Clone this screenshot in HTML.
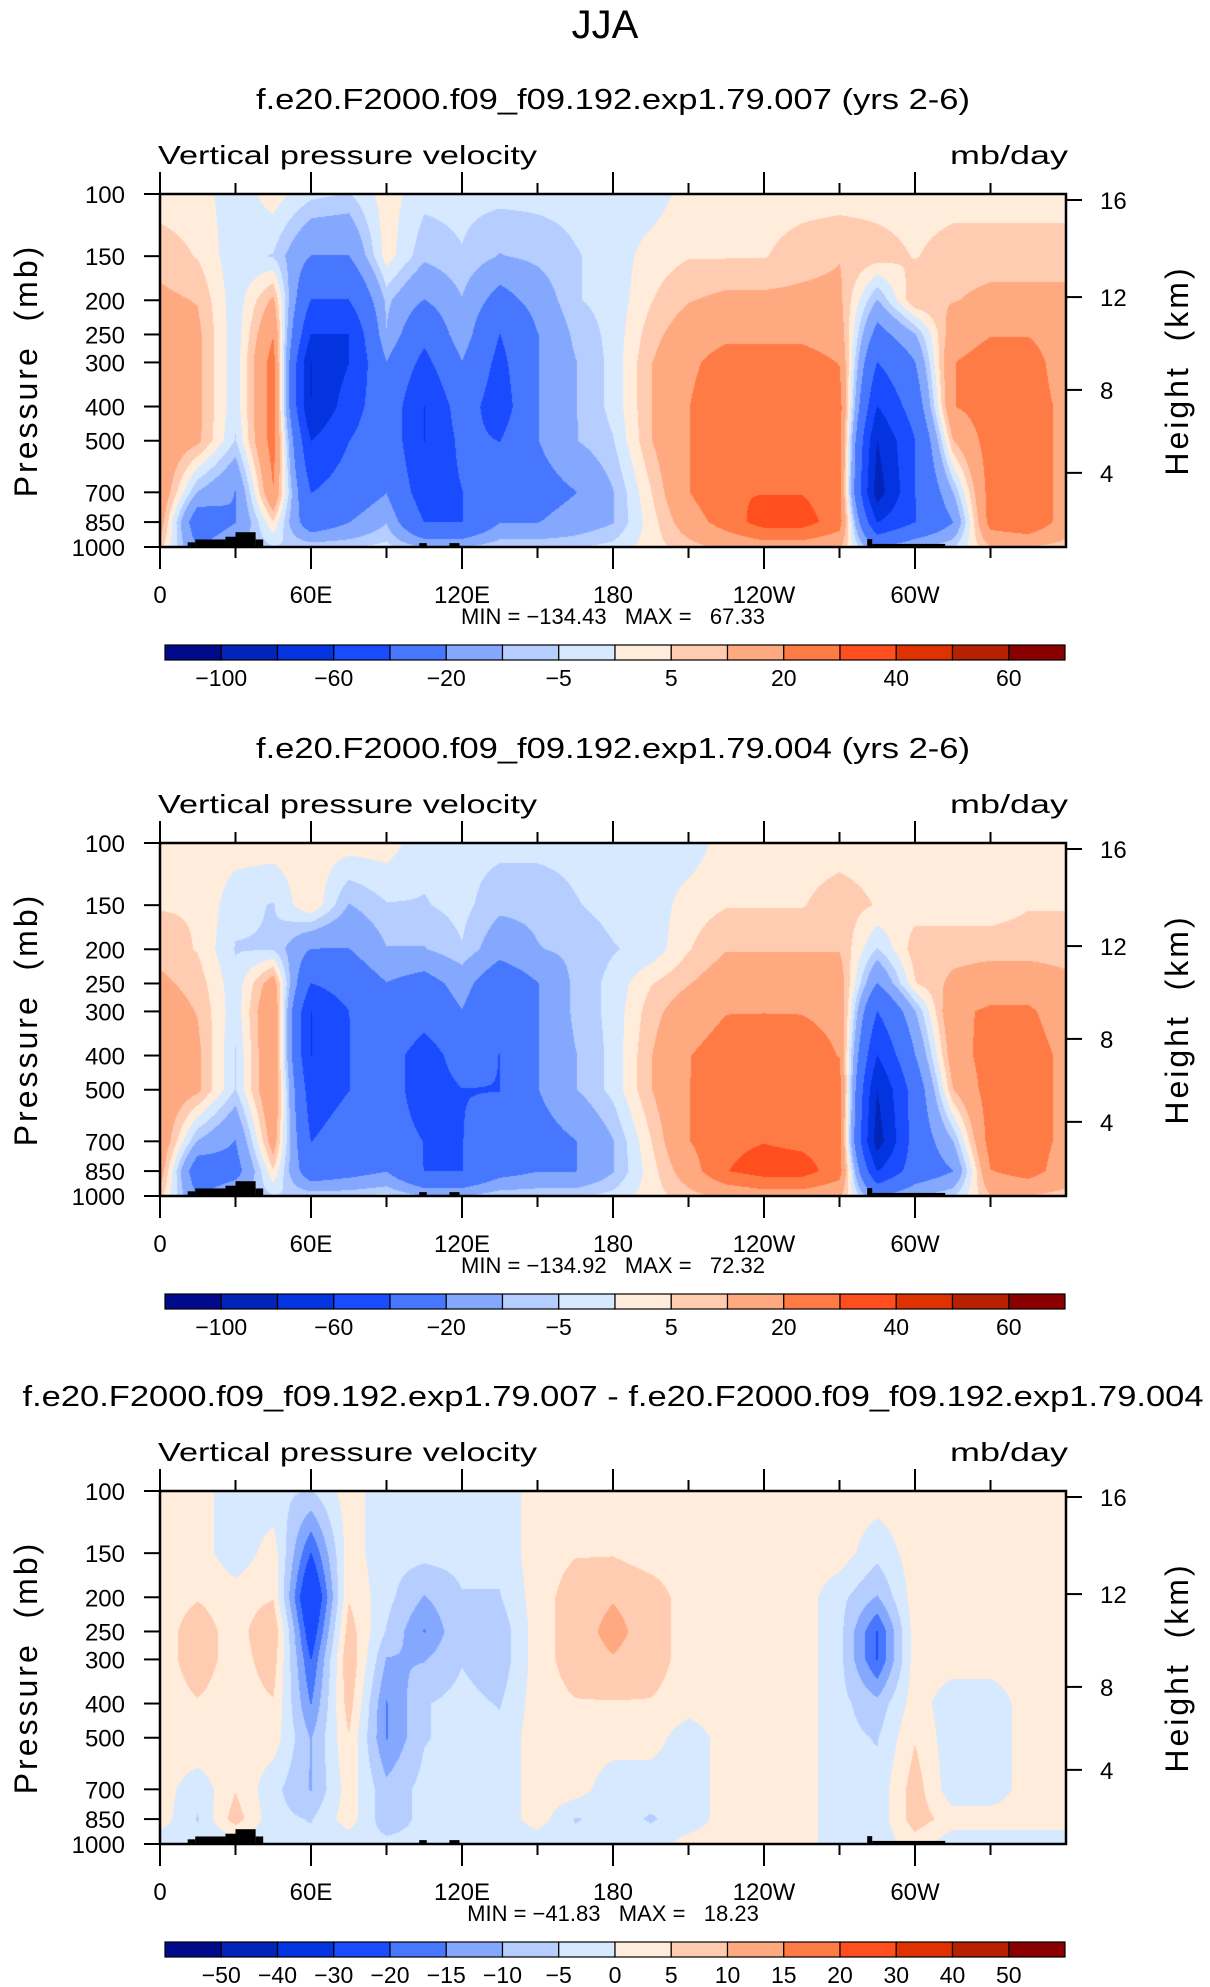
<!DOCTYPE html>
<html><head><meta charset="utf-8"><style>
html,body{margin:0;padding:0;background:#fff;}
#root{position:relative;width:1210px;height:1987px;overflow:hidden;background:#fff;}
canvas{position:absolute;}
svg{position:absolute;left:0;top:0;}
text{font-family:"Liberation Sans",sans-serif;fill:#000;}
</style></head><body>
<div id="root">
<svg id="svg" width="1210" height="1987"></svg>
</div>
<script>
// ---------- data ----------
const levels = [100,150,200,250,300,400,500,700,850,1000];
const lons = [0,15,30,45,60,75,90,105,120,135,150,165,180,195,210,225,240,255,270,285,300,315,330,345,360];
const field1 = [
[3,3,-3,3,-3,-5,3,-3,-3,-3,-3,-3,-3,-3,3,3,3,3,3,3,3,3,3,3,3],
[8,5,-3,-5,-20,-20,3,-8,-5,-10,-8,-5,-3,3,5,5,5,8,10,8,5,8,8,8,8],
[12,10,-3,12,-40,-40,-8,-20,-10,-25,-15,-5,-3,5,10,12,12,12,12,-10,10,10,12,12,12],
[15,12,-3,20,-60,-60,-10,-35,-12,-40,-20,-8,-3,8,15,18,18,18,15,-25,-10,15,20,20,15],
[15,12,-3,25,-80,-60,-20,-45,-20,-45,-20,-10,-3,10,18,25,25,25,20,-40,-20,20,25,25,15],
[18,12,-3,25,-80,-50,-25,-60,-30,-50,-20,-10,-3,10,20,30,30,30,25,-60,-30,20,25,25,18],
[18,12,-5,25,-60,-40,-25,-60,-35,-40,-20,-10,-5,10,20,30,30,30,25,-80,-40,10,25,25,18],
[18,-10,-20,20,-40,-30,-20,-50,-40,-30,-25,-20,-10,5,20,30,30,30,25,-90,-40,-10,25,25,18],
[15,-30,-20,5,-30,-20,-10,-40,-40,-20,-20,-15,-10,3,15,25,35,35,25,-60,-40,-20,25,30,15],
[8,-20,-10,-5,-5,-5,-3,-10,-10,-5,-5,-5,-3,3,8,12,15,15,12,-20,-10,-5,10,10,8]];
const field2 = [
[3,3,3,3,3,3,3,-3,-3,-3,-3,-3,-3,-3,-3,3,3,3,3,3,3,3,3,3,3],
[5,5,-3,-5,5,-10,-5,-5,-3,-8,-8,-5,-3,-3,3,5,5,5,8,5,3,3,3,5,5],
[8,5,-5,-5,-20,-20,-10,-10,-5,-15,-10,-8,-5,-3,5,10,10,10,10,-5,8,8,8,8,8],
[12,8,-3,15,-40,-30,-20,-25,-15,-30,-20,-8,-3,5,10,15,15,15,15,-20,5,12,15,15,12],
[15,10,-3,20,-60,-40,-20,-30,-20,-35,-20,-8,-3,8,15,20,20,20,18,-40,-10,18,22,22,15],
[18,12,-5,20,-60,-40,-30,-50,-30,-40,-20,-10,-3,10,20,25,28,25,20,-60,-20,15,25,25,18],
[18,12,-5,20,-50,-40,-30,-50,-40,-40,-20,-10,-3,10,20,28,30,28,25,-80,-30,10,25,25,18],
[18,-10,-20,15,-40,-30,-30,-40,-40,-30,-25,-20,-10,5,20,28,30,28,25,-90,-30,-10,25,25,18],
[15,-30,-25,5,-30,-25,-20,-40,-40,-25,-20,-20,-10,3,15,30,35,35,25,-60,-30,-20,20,25,15],
[8,-20,-10,-5,-5,-5,-3,-10,-10,-5,-5,-5,-3,3,8,12,15,15,12,-20,-10,-5,10,10,8]];
const field3 = [
[3,3,-3,-3,-5,3,-3,-3,-3,-3,3,3,3,3,3,3,3,3,3,3,3,3,3,3,3],
[3,3,-3,3,-20,3,-3,-3,-3,-3,3,5,5,3,3,3,3,3,3,-3,3,3,3,3,3],
[3,5,3,5,-30,5,-3,-10,-5,-5,3,8,10,8,3,3,3,3,-3,-10,3,3,3,3,3],
[3,8,3,10,-25,8,-5,-15,-5,-8,3,8,12,8,3,3,3,3,-3,-20,3,3,3,3,3],
[3,8,3,8,-20,10,-10,-10,-5,-8,3,8,10,8,3,3,3,3,-3,-20,3,3,3,3,3],
[3,5,3,5,-15,8,-15,-5,-3,-5,3,5,5,5,3,3,3,3,-3,-8,3,-3,-3,3,3],
[3,5,3,3,-10,5,-15,-5,-3,-3,3,3,3,3,-3,3,3,3,-3,-5,5,-3,-3,3,3],
[3,-3,5,-3,-10,3,-8,-3,-3,-3,3,3,-3,-3,-3,3,3,3,-3,-3,8,-3,-3,3,3],
[3,-5,8,-3,-5,3,-8,-3,-3,-3,3,-5,-3,-5,-3,3,3,3,-3,-3,8,3,3,3,3],
[-3,-3,-3,-3,-3,-3,-3,-3,-3,-3,-3,-3,-3,-3,3,3,3,3,-3,-3,3,-3,-3,-3,-3]];
const bounds12 = [-100,-80,-60,-40,-20,-10,-5,0,5,10,20,30,40,50,60];
const labels12 = ["-100","-60","-20","-5","5","20","40","60"];
const bounds3 = [-50,-40,-30,-20,-15,-10,-5,0,5,10,15,20,30,40,50];
const labels3 = ["-50","-40","-30","-20","-15","-10","-5","0","5","10","15","20","30","40","50"];
const colors = ["#020a8c","#0324b8","#0433e0","#1a4bff","#4877ff","#85a8ff","#b5ceff","#d6e9ff","#ffecda","#ffccb1","#ffa981","#ff7b45","#ff4f1e","#e03200","#b72000","#8a0000"];
const xTickLons = [0,60,120,180,240,300];
const xTickLabels = ["0","60E","120E","180","120W","60W"];
const pTicks = [100,150,200,250,300,400,500,700,850,1000];
const zTicks = [16,12,8,4];
const zFrac = [0.017,0.292,0.555,0.79];
// topography: [lonStart, lonEnd, top pressure]
const topo = [[11,14,970],[14,26,952],[26,30,935],[30,38,908],[38,41,952],[103,106,975],[115,118,975],[118,119,975],[281,283,950],[283,312,980]];
const titles = ["f.e20.F2000.f09_f09.192.exp1.79.007 (yrs 2-6)","f.e20.F2000.f09_f09.192.exp1.79.004 (yrs 2-6)","f.e20.F2000.f09_f09.192.exp1.79.007 - f.e20.F2000.f09_f09.192.exp1.79.004"];
const titleW = [714,714,1181];
const minmax = ["MIN = \u2212134.43   MAX =   67.33","MIN = \u2212134.92   MAX =   72.32","MIN = \u221241.83   MAX =   18.23"];

// ---------- layout ----------
const PX=160, PW=906, PH=353, tops=[194,843,1491];
const svg=document.getElementById('svg'), root=document.getElementById('root');
const NS='http://www.w3.org/2000/svg';
function mk(tag,attrs,parent,txt){const e=document.createElementNS(NS,tag);for(const k in attrs)e.setAttribute(k,attrs[k]);if(txt!==undefined)e.textContent=txt;(parent||svg).appendChild(e);return e;}
const xS=l=>PX+l/360*PW;
const yS=(p,top)=>top+Math.log10(p/100)*PH;
const lvlPos=levels.map(p=>Math.log10(p/100));

function valueAt(field,lon,lp){
  let i=Math.min(Math.floor(lon/15),lons.length-2); let fx=(lon-lons[i])/15;
  let j=0; while(j<levels.length-2 && lp>lvlPos[j+1]) j++;
  let fy=(lp-lvlPos[j])/(lvlPos[j+1]-lvlPos[j]); fy=Math.max(0,Math.min(1,fy));
  const a=field[j][i],b=field[j][i+1],c=field[j+1][i],d=field[j+1][i+1];
  return (a*(1-fx)+b*fx)*(1-fy)+(c*(1-fx)+d*fx)*fy;
}
function hexRGB(h){return [parseInt(h.substr(1,2),16),parseInt(h.substr(3,2),16),parseInt(h.substr(5,2),16)];}
const rgb=colors.map(hexRGB);

const fields=[field1,field2,field3];
const bnds=[bounds12,bounds12,bounds3];
const labs=[labels12,labels12,labels3];

mk('text',{x:605,y:38,'font-size':40,'text-anchor':'middle','font-weight':'300',},svg,'JJA');

for(let k=0;k<3;k++){
  const top=tops[k], f=fields[k], bd=bnds[k];
  const g=mk('g',{});
  
  
  const cv=document.createElement('canvas'); cv.width=PW; cv.height=PH;
  cv.style.left=PX+'px'; cv.style.top=top+'px';
  
  
  root.insertBefore(cv,svg);
  const ctx=cv.getContext('2d'); const img=ctx.createImageData(PW,PH);
  for(let y=0;y<PH;y++){const lp=(y+0.5)/PH;
    for(let x=0;x<PW;x++){const lon=(x+0.5)/PW*360;
      const v=valueAt(f,lon,lp)-0.37; let ci=0; while(ci<bd.length && v>=bd[ci]) ci++;
      const c=rgb[ci], o=(y*PW+x)*4; img.data[o]=c[0];img.data[o+1]=c[1];img.data[o+2]=c[2];img.data[o+3]=255;}}
  ctx.putImageData(img,0,0);
  topo.forEach(t=>{const r=mk('rect',{x:xS(t[0]),y:yS(t[2],top),width:xS(t[1])-xS(t[0]),height:yS(1000,top)-yS(t[2],top),fill:'#000'},g);
    });
  mk('rect',{x:PX,y:top,width:PW,height:PH,fill:'none',stroke:'#000','stroke-width':2.5,},g);
  mk('text',{x:613,y:top-85,'font-size':29,'text-anchor':'middle',textLength:titleW[k],lengthAdjust:'spacingAndGlyphs',},g,titles[k]);
  mk('text',{x:158,y:top-30,'font-size':26,textLength:379,lengthAdjust:'spacingAndGlyphs','font-weight':'300',},g,'Vertical pressure velocity');
  mk('text',{x:1068,y:top-30,'font-size':26,'text-anchor':'end',textLength:118,lengthAdjust:'spacingAndGlyphs',},g,'mb/day');
  for(let l=0;l<=330;l+=30){const x=xS(l), major=l%60===0, len=major?22:11;
    mk('line',{x1:x,y1:top,x2:x,y2:top-len,stroke:'#000','stroke-width':2},g);
    mk('line',{x1:x,y1:top+PH,x2:x,y2:top+PH+len,stroke:'#000','stroke-width':2},g);}
  xTickLons.forEach((l,i)=>{const t=mk('text',{x:xS(l),y:top+PH+56,'font-size':24,'text-anchor':'middle'},g,xTickLabels[i]);
    });
  mk('text',{x:613,y:top+PH+77,'font-size':22,'text-anchor':'middle',style:'white-space:pre',},g,minmax[k]);
  pTicks.forEach(p=>{const y=yS(p,top);
    mk('line',{x1:PX-16,y1:y,x2:PX,y2:y,stroke:'#000','stroke-width':2},g);
    const t=mk('text',{x:125,y:y+9,'font-size':24,'text-anchor':'end'},g,String(p));
    });
  zTicks.forEach((z,i)=>{const y=top+zFrac[i]*PH;
    mk('line',{x1:PX+PW,y1:y,x2:PX+PW+16,y2:y,stroke:'#000','stroke-width':2},g);
    const t=mk('text',{x:1100,y:y+9,'font-size':24},g,String(z));
    });
  const cy=top+PH/2;
  mk('text',{x:0,y:0,'font-size':32,'text-anchor':'middle',transform:`translate(37,${cy}) rotate(-90)`,'letter-spacing':'3',style:'white-space:pre',},g,'Pressure  (mb)');
  mk('text',{x:0,y:0,'font-size':32,'text-anchor':'middle',transform:`translate(1188,${cy}) rotate(-90)`,'letter-spacing':'3',style:'white-space:pre',},g,'Height  (km)');
  const cbx=165,cbw=900,cby=top+PH+98,cbh=15,bw=cbw/16;
  colors.forEach((c,i)=>{const r=mk('rect',{x:cbx+i*bw,y:cby,width:bw,height:cbh,fill:c,stroke:'#000','stroke-width':1.2},g);
    });
  const lb=labs[k], step=lb.length===8?2:1;
  lb.forEach((s,i)=>{const bi=step===2?(i*2+1):(i+1);
    const t=mk('text',{x:cbx+bi*bw,y:cby+41,'font-size':23,'text-anchor':'middle'},g,s.replace('-','\u2212'));
    });
}
</script>
</body></html>
